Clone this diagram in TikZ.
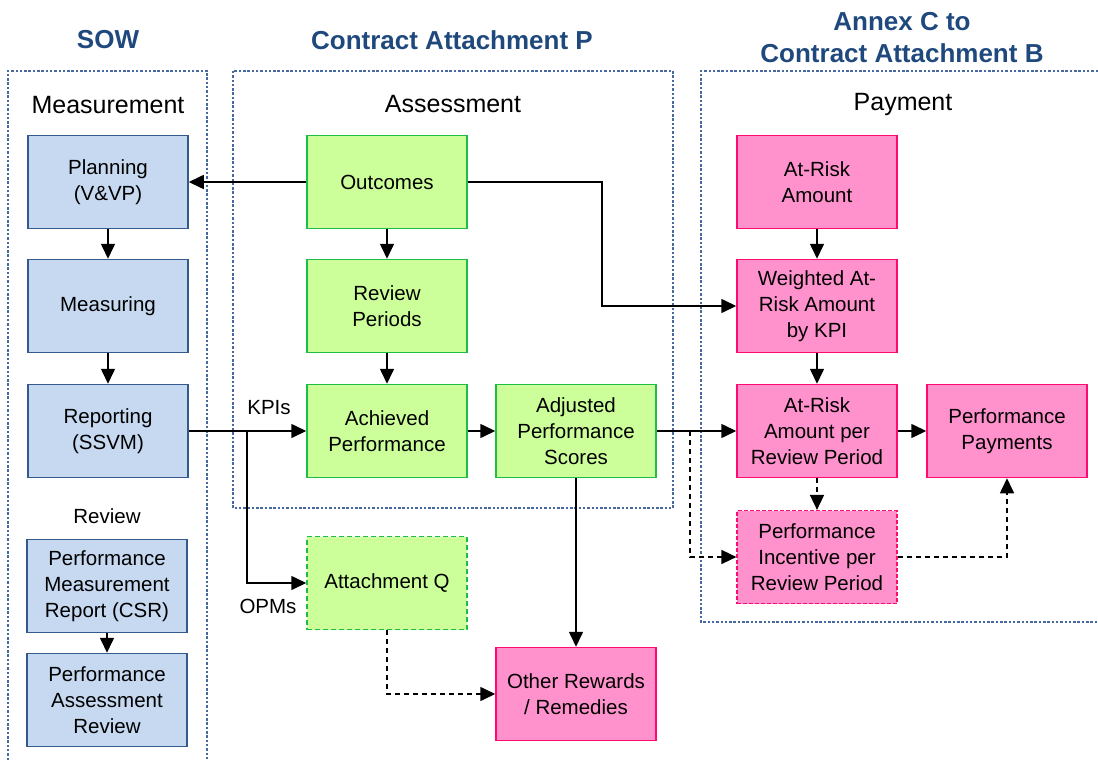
\documentclass[tikz,border=0pt]{standalone}
\usepackage{fontspec}
\setmainfont{Liberation Sans}
\usetikzlibrary{arrows.meta}

\definecolor{hdrblue}{RGB}{31,73,125}
\definecolor{contblue}{RGB}{70,105,160}
\definecolor{bluefill}{RGB}{198,217,240}
\definecolor{blueline}{RGB}{52,90,140}
\definecolor{greenfill}{RGB}{204,255,153}
\definecolor{greenline}{RGB}{30,190,70}
\definecolor{pinkfill}{RGB}{255,145,205}
\definecolor{pinkline}{RGB}{255,10,110}

\tikzset{
  boxfont/.style={font=\fontsize{20.5}{26}\selectfont},
  basebox/.style={boxfont, rectangle, minimum width=160pt, minimum height=93pt,
    inner sep=0pt, align=center, line width=1.5pt},
  bluebox/.style={basebox, fill=bluefill, draw=blueline},
  greenbox/.style={basebox, fill=greenfill, draw=greenline},
  pinkbox/.style={basebox, fill=pinkfill, draw=pinkline},
  container/.style={draw=contblue, line width=1.1pt, dash pattern=on 2.5pt off 1.8pt},
  header/.style={font=\fontsize{26}{32}\selectfont\bfseries, text=hdrblue, align=center},
  subheader/.style={font=\fontsize{25}{30}\selectfont},
  lbl/.style={boxfont},
  arr/.style={line width=1.6pt, -{Triangle[length=15pt,width=14pt]}},
  darr/.style={arr, dash pattern=on 5pt off 4pt},
}

\begin{document}
\begin{tikzpicture}[x=1pt,y=-1pt]
\useasboundingbox (0,0) rectangle (1098,760);

% section frames
\draw[container] (8,760) -- (8,71) -- (207,71) -- (207,760);
\draw[container] (233,71) rectangle (673,508);
\draw[container] (1098,71) -- (701,71) -- (701,622) -- (1098,622);

% section titles
\node[header] (hsow) at (108,40) {SOW};
\node[header] (hcap) at (452,40) {Contract Attachment P};
\node[header] (hanx) at (902,38) {Annex C to\\Contract Attachment B};

\node[subheader] (smeas) at (108,105) {Measurement};
\node[subheader] (sass) at (453,104) {Assessment};
\node[subheader] (spay) at (903,104) {Payment};

% measurement column
\node[bluebox] (plan) at (108,182) {Planning\\(V\&VP)};
\node[bluebox] (meas) at (108,306) {Measuring};
\node[bluebox] (rep)  at (108,431) {Reporting\\(SSVM)};
\node[lbl] (rev) at (107,516) {Review};
\node[bluebox] (pmr) at (107,586) {Performance\\Measurement\\Report (CSR)};
\node[bluebox] (par) at (107,700) {Performance\\Assessment\\Review};

% assessment column
\node[greenbox] (out) at (387,182) {Outcomes};
\node[greenbox] (rp)  at (387,306) {Review\\Periods};
\node[greenbox] (ach) at (387,431) {Achieved\\Performance};
\node[greenbox] (adj) at (576,431) {Adjusted\\Performance\\Scores};
\node[greenbox, dash pattern=on 5pt off 3pt] (attq) at (387,583) {Attachment Q};
\node[pinkbox] (oth) at (576,694) {Other Rewards\\/ Remedies};

% payment column
\node[pinkbox] (ara) at (817,182) {At-Risk\\Amount};
\node[pinkbox] (war) at (817,306) {Weighted At-\\Risk Amount\\by KPI};
\node[pinkbox] (arp) at (817,431) {At-Risk\\Amount per\\Review Period};
\node[pinkbox] (pp)  at (1007,431) {Performance\\Payments};
\node[pinkbox, line width=1.2pt, dash pattern=on 4pt off 2pt] (pir) at (817,557) {Performance\\Incentive per\\Review Period};

% labels on the KPI / OPM feeds
\node[lbl] (kpi) at (269,408) {KPIs};
\node[lbl] (opm) at (268,606) {OPMs};

% branch points
\coordinate (kj) at (247,431);
\coordinate (dj) at (690,431);

% connectors
\draw[arr] (out.west) -- (plan.east);
\draw[arr] (plan.south) -- (meas.north);
\draw[arr] (meas.south) -- (rep.north);
\draw[arr] (pmr.south) -- (par.north);

\draw[arr] (out.east) -- ++(134,0) |- (war.west);
\draw[arr] (out.south) -- (rp.north);
\draw[arr] (rp.south) -- (ach.north);
\draw[arr] (rep.east) -- (ach.west);
\draw[arr] (kj) |- (attq.west);
\draw[arr] (ach.east) -- (adj.west);
\draw[arr] (adj.east) -- (arp.west);
\draw[arr] (adj.south) -- (oth.north);
\draw[darr] (attq.south) |- (oth.west);

\draw[arr] (ara.south) -- (war.north);
\draw[arr] (war.south) -- (arp.north);
\draw[arr] (arp.east) -- (pp.west);
\draw[darr] (dj) |- (pir.west);
\draw[darr] (arp.south) -- (pir.north);
\draw[darr] (pir.east) -| (pp.south);
\end{tikzpicture}
\end{document}
